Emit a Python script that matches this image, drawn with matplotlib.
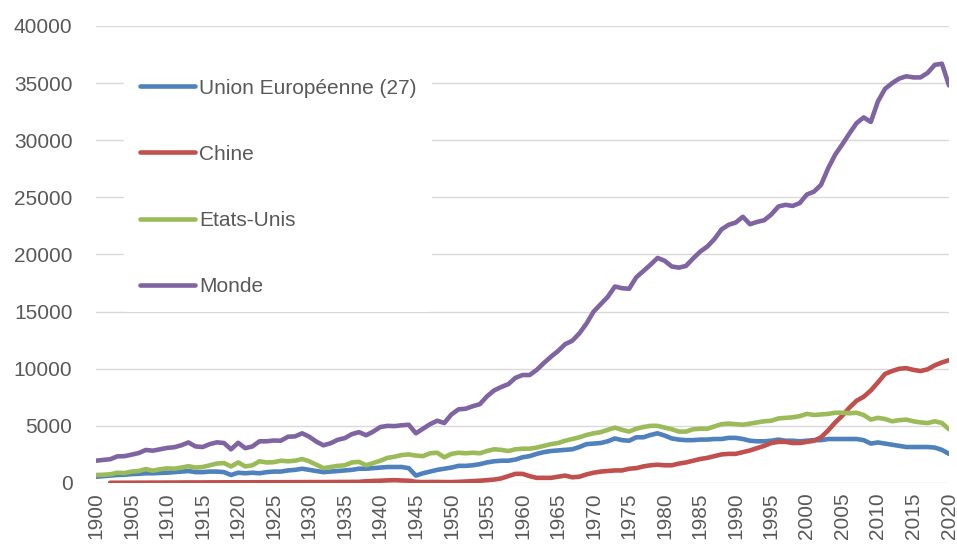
import matplotlib
matplotlib.use('Agg')
import numpy as np
import matplotlib.pyplot as plt

plt.rcParams['font.family'] = ['Liberation Sans', 'DejaVu Sans']

# Emissions de CO2 (Mt), 1900-2020
annees = list(range(1900, 2021))

ue27 = [550, 600, 650, 700, 720, 780, 800, 850, 850, 880,
        900, 950, 1000, 1050, 950, 950, 1000, 1000, 950, 700,
        900, 850, 900, 850, 950, 1000, 1000, 1100, 1150, 1250,
        1150, 1050, 950, 1000, 1050, 1100, 1150, 1250, 1250, 1300,
        1350, 1400, 1400, 1400, 1300, 650, 850, 1000, 1150, 1250,
        1350, 1500, 1500, 1550, 1650, 1800, 1900, 1950, 1950, 2050,
        2250, 2350, 2550, 2700, 2800, 2850, 2900, 2950, 3150, 3400,
        3450, 3500, 3650, 3900, 3750, 3700, 4000, 4000, 4200, 4350,
        4150, 3900, 3800, 3750, 3750, 3800, 3800, 3850, 3850, 3950,
        3950, 3850, 3700, 3650, 3650, 3700, 3800, 3700, 3700, 3650,
        3700, 3750, 3750, 3850, 3850, 3850, 3850, 3850, 3750, 3450,
        3550, 3450, 3350, 3250, 3150, 3150, 3150, 3150, 3100, 2900,
        2550]

chine = [np.nan, np.nan, 20, 20, 25, 25, 30, 30, 35, 35,
         40, 40, 45, 50, 50, 50, 55, 55, 60, 60,
         60, 60, 65, 65, 70, 70, 70, 75, 75, 80,
         80, 80, 80, 85, 90, 90, 95, 100, 150, 180,
         200, 230, 250, 220, 200, 100, 80, 90, 90, 80,
         80, 100, 130, 170, 200, 250, 300, 400, 600, 800,
         800, 600, 450, 450, 450, 550, 650, 500, 550, 750,
         900, 1000, 1050, 1100, 1100, 1250, 1300, 1450, 1550, 1600,
         1550, 1550, 1700, 1800, 1950, 2100, 2200, 2350, 2500, 2550,
         2550, 2700, 2850, 3050, 3250, 3500, 3600, 3600, 3500, 3500,
         3600, 3700, 4000, 4600, 5300, 5900, 6600, 7200, 7550, 8100,
         8800, 9550, 9800, 10000, 10050, 9900, 9800, 9950, 10300, 10550,
         10750]

etats_unis = [700, 720, 760, 900, 870, 1000, 1050, 1220, 1080, 1200,
              1280, 1250, 1350, 1470, 1350, 1400, 1550, 1700, 1750, 1450,
              1800, 1450, 1550, 1900, 1800, 1820, 1950, 1900, 1950, 2100,
              1900, 1600, 1300, 1400, 1500, 1550, 1800, 1850, 1550, 1750,
              1950, 2200, 2300, 2450, 2500, 2400, 2350, 2600, 2650, 2250,
              2550, 2650, 2600, 2650, 2600, 2800, 2950, 2900, 2800, 2950,
              3000, 3000, 3100, 3250, 3400, 3500, 3700, 3850, 4000, 4200,
              4350, 4450, 4650, 4850, 4650, 4500, 4750, 4900, 5000, 5000,
              4850, 4700, 4500, 4500, 4700, 4750, 4750, 4950, 5150, 5200,
              5150, 5100, 5200, 5300, 5400, 5450, 5650, 5700, 5750, 5850,
              6050, 5950, 6000, 6050, 6150, 6150, 6100, 6150, 5950, 5550,
              5700, 5600, 5400, 5500, 5550, 5400, 5300, 5250, 5400, 5250,
              4700]

monde = [1950, 2020, 2080, 2330, 2350, 2480, 2620, 2890, 2830, 2950,
         3070, 3130, 3300, 3550, 3200, 3150, 3400, 3560, 3500, 2950,
         3520, 3050, 3200, 3650, 3650, 3720, 3700, 4050, 4080, 4350,
         4050, 3620, 3300, 3480, 3780, 3930, 4280, 4450, 4180, 4500,
         4900, 5000, 4980, 5050, 5100, 4350, 4750, 5150, 5450, 5250,
         6000, 6450, 6500, 6720, 6900, 7580, 8100, 8400, 8650, 9200,
         9450, 9450, 9900, 10500, 11050, 11550, 12150, 12450, 13100, 13950,
         15000, 15650, 16300, 17200, 17050, 17000, 18000, 18550, 19100, 19700,
         19450, 18950, 18850, 19000, 19650, 20250, 20700, 21350, 22200, 22600,
         22800, 23300, 22650, 22850, 23000, 23500, 24200, 24350, 24250, 24500,
         25250, 25500, 26100, 27550, 28750, 29650, 30600, 31500, 32000, 31600,
         33400, 34500, 35000, 35400, 35600, 35500, 35500, 35900, 36600, 36700,
         34800]

series = [
    ('Union Européenne (27)', ue27, '#4F81BD'),
    ('Chine', chine, '#C0504D'),
    ('Etats-Unis', etats_unis, '#9BBB59'),
    ('Monde', monde, '#8064A2'),
]

gris = '#595959'

fig = plt.figure(figsize=(9.57, 5.44), dpi=100)
ax = fig.add_axes([96 / 957, 1 - 483 / 544, 853 / 957, 457 / 544])

for nom, valeurs, couleur in series:
    ax.plot(annees, valeurs, color=couleur, lw=3.3, label=nom,
            solid_capstyle='round', solid_joinstyle='round')

ax.set_xlim(1900, 2020)
ax.set_ylim(0, 40000)
ax.set_yticks(range(0, 40001, 5000))
ax.set_xticks(range(1900, 2021, 5))
ax.grid(axis='y', color='#D9D9D9', lw=1)
ax.set_axisbelow(True)
for s in ax.spines.values():
    s.set_visible(False)

ax.tick_params(axis='y', length=0, pad=17, labelsize=15, labelcolor=gris)
ax.tick_params(axis='x', length=0, pad=7, labelsize=15, labelcolor=gris,
               labelrotation=90)

leg = ax.legend(loc='upper left', bbox_to_anchor=(0.033, 0.919),
                borderaxespad=0, fontsize=15, frameon=True,
                handlelength=2.65, handletextpad=0.2, labelspacing=2.26,
                borderpad=0.75)
leg.get_frame().set_facecolor('white')
leg.get_frame().set_edgecolor('none')
leg.get_frame().set_alpha(1)
for t in leg.get_texts():
    t.set_color(gris)

fig.savefig('out.png', dpi=100)
